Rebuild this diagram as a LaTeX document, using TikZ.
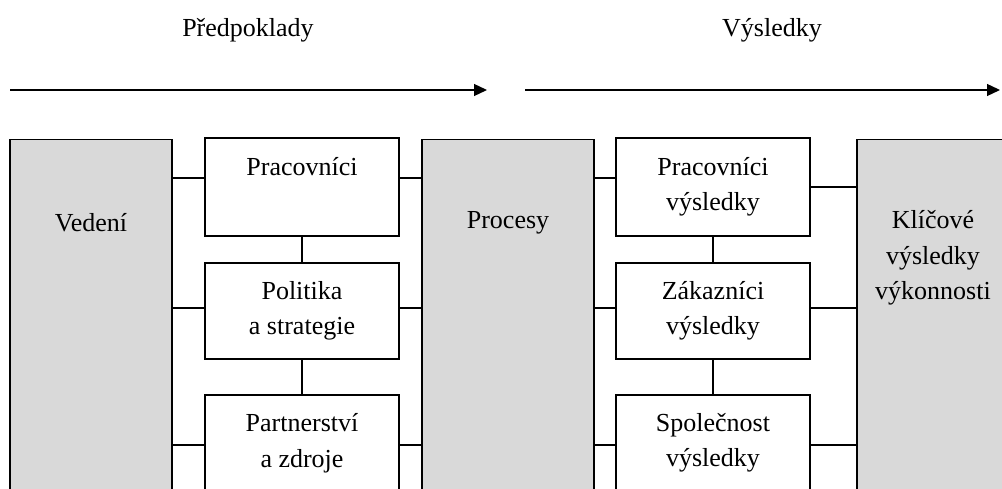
\documentclass[tikz,border=0pt]{standalone}
\usepackage{fontspec}
\setmainfont{Liberation Serif}
\usepackage{xcolor}
\definecolor{boxgray}{HTML}{D9D9D9}
\usetikzlibrary{arrows.meta,calc,positioning}

\begin{document}
\begin{tikzpicture}[x=1pt,y=-1pt,
    every node/.style={font=\fontsize{26}{35.5}\selectfont},
    whitebox/.style={draw,line width=1.3pt,fill=white,minimum width=194,minimum height=96,align=center,inner sep=0pt},
    graybox/.style={draw,line width=1.3pt,fill=boxgray,anchor=north,minimum height=420,inner sep=0pt},
    boxtext/.style={align=center,inner sep=0pt},
    link/.style={line width=1.3pt},
    flow/.style={line width=1.3pt,-{Triangle[length=13,width=12]}}]
        \useasboundingbox (0,0) rectangle (1002,489);
        \clip (0,0) rectangle (1002,489);
        % Headings and the two arrows
        \node (pred) at (248,30) {Předpoklady};
        \node (vysl) at (772,30) {Výsledky};
        \coordinate (a1) at (10,90);
        \coordinate (a2) at (487,90);
        \coordinate (b1) at (525,90);
        \coordinate (b2) at (1000,90);
        \draw[flow] (a1) -- (a2);
        \draw[flow] (b1) -- (b2);
        % Gray columns (cut off at the bottom)
        \node[graybox,minimum width=162] (vedeni) at (91,139) {};
        \node[graybox,minimum width=172] (procesy) at (508,139) {};
        \node[graybox,minimum width=152] (klic) at (933,139) {};
        \node[boxtext] (vedtxt) at ([yshift=-84]vedeni.north) {Vedení};
        \node[boxtext] (proctxt) at ([yshift=-84]procesy.north) {Procesy};
        \node[boxtext] (klictxt) at ([yshift=-119]klic.north) {Klíčové\\výsledky\\výkonnosti};
        % White boxes, left column
        \node[whitebox,minimum height=98] (prac) at (302,187) {Pracovníci\\\phantom{y}};
        \node[whitebox] (pol) at (302,311) {Politika\\a strategie};
        \node[whitebox] (part) at (302,443) {Partnerství\\a zdroje};
        % White boxes, right column
        \node[whitebox,minimum height=98] (pracv) at (713,187) {Pracovníci\\výsledky};
        \node[whitebox] (zak) at (713,311) {Zákazníci\\výsledky};
        \node[whitebox] (spol) at (713,443) {Společnost\\výsledky};
        % Rows of the links
        \coordinate (r1) at (0,178);
        \coordinate (r2) at (0,308);
        \coordinate (r3) at (0,445);
        % Vertical links
        \draw[link] (prac) -- (pol);
        \draw[link] (pol) -- (part);
        \draw[link] (pracv) -- (zak);
        \draw[link] (zak) -- (spol);
        % Horizontal links
        \draw[link] (vedeni.east |- r1) -- (prac.west |- r1);
        \draw[link] (vedeni.east |- r2) -- (pol.west |- r2);
        \draw[link] (vedeni.east |- r3) -- (part.west |- r3);
        \draw[link] (prac.east |- r1) -- (procesy.west |- r1);
        \draw[link] (pol.east |- r2) -- (procesy.west |- r2);
        \draw[link] (part.east |- r3) -- (procesy.west |- r3);
        \draw[link] (procesy.east |- r1) -- (pracv.west |- r1);
        \draw[link] (procesy.east |- r2) -- (zak.west |- r2);
        \draw[link] (procesy.east |- r3) -- (spol.west |- r3);
        \draw[link] (pracv.east) -- (klic.west |- pracv.east);
        \draw[link] (zak.east |- r2) -- (klic.west |- r2);
        \draw[link] (spol.east |- r3) -- (klic.west |- r3);
\end{tikzpicture}
\end{document}
